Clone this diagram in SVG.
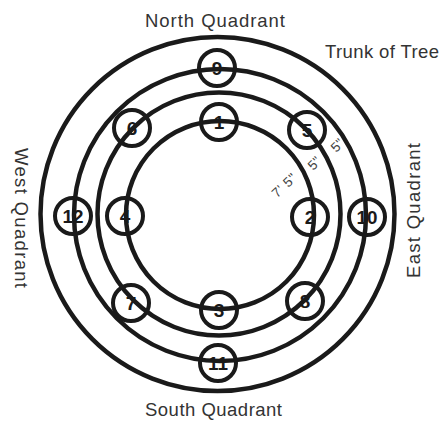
<svg xmlns="http://www.w3.org/2000/svg" width="441" height="423" viewBox="0 0 441 423">
<style>
.ring{fill:none;stroke:#1a1a1a;stroke-width:4.5}
.node circle{fill:none;stroke:#1a1a1a;stroke-width:4}
.node text{font-family:"Liberation Sans",Arial,sans-serif;font-weight:bold;font-size:19px;fill:#1a1a1a;text-anchor:middle}
.lbl{font-family:"Liberation Sans",Arial,sans-serif;font-size:18.5px;fill:#333}
.dim{font-family:"Liberation Sans",Arial,sans-serif;font-size:13.5px;fill:#444;text-anchor:middle}
</style>
<rect width="441" height="423" fill="#fff"/>
<g id="connectors">
<circle class="ring" cx="217.5" cy="214" r="177"/>
<circle class="ring" cx="220" cy="215" r="146"/>
<circle class="ring" cx="219" cy="214" r="121.5"/>
<circle class="ring" cx="220" cy="215" r="94"/>
</g>
<g id="n9" class="node"><circle cx="217" cy="68" r="18"/><text x="217" y="75">9</text></g>
<g id="n1" class="node"><circle cx="219" cy="122" r="18"/><text x="219" y="129">1</text></g>
<g id="n6" class="node"><circle cx="132" cy="128" r="18"/><text x="132" y="135">6</text></g>
<g id="n5" class="node"><circle cx="307" cy="130" r="18"/><text x="307" y="137">5</text></g>
<g id="n2" class="node"><circle cx="310" cy="217" r="18"/><text x="310" y="224">2</text></g>
<g id="n10" class="node"><circle cx="367" cy="217" r="18"/><text x="367" y="224" textLength="21" lengthAdjust="spacingAndGlyphs">10</text></g>
<g id="n12" class="node"><circle cx="73" cy="216" r="18"/><text x="73" y="223" textLength="21" lengthAdjust="spacingAndGlyphs">12</text></g>
<g id="n4" class="node"><circle cx="125" cy="216" r="18"/><text x="125" y="223">4</text></g>
<g id="n7" class="node"><circle cx="131" cy="303" r="18"/><text x="131" y="310">7</text></g>
<g id="n3" class="node"><circle cx="219" cy="310" r="18"/><text x="219" y="317">3</text></g>
<g id="n8" class="node"><circle cx="305" cy="301" r="18"/><text x="305" y="308">8</text></g>
<g id="n11" class="node"><circle cx="218" cy="363" r="18"/><text x="218" y="370" textLength="20" lengthAdjust="spacingAndGlyphs">11</text></g>
<g id="labels">
<text class="lbl" x="145" y="27" textLength="140" lengthAdjust="spacing">North Quadrant</text>
<text class="lbl" x="325" y="58" textLength="114" lengthAdjust="spacing">Trunk of Tree</text>
<text class="lbl" x="145" y="416" textLength="137" lengthAdjust="spacing">South Quadrant</text>
<text class="lbl" transform="translate(420,278) rotate(-90)" textLength="135" lengthAdjust="spacing">East Quadrant</text>
<text class="lbl" transform="translate(15,148) rotate(90)" textLength="140" lengthAdjust="spacing">West Quadrant</text>
<text class="dim" transform="translate(284,185) rotate(-43)" dy="5" letter-spacing="0.5">7' 5"</text>
<text class="dim" transform="translate(314,163) rotate(-45)" dy="5">5"</text>
<text class="dim" transform="translate(337,145) rotate(-45)" dy="5">5"</text>
</g>
</svg>
